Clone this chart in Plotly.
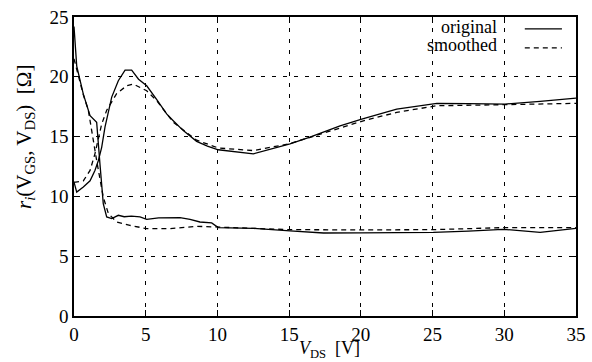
import plotly.graph_objects as go

# ---- data ----
# branch A: starts high at V_DS=0, drops, then flat
xa_orig = [0, 0.19, 0.65, 1.12, 1.58, 1.7, 1.81, 1.93, 2.04, 2.28, 2.63, 3.09, 3.5, 4.0, 4.6, 5.07, 5.9, 7.39, 8.09, 8.78, 9.6, 10.06, 12.5, 15.06, 17.4, 20, 22.5, 25.05, 27.5, 29.9, 32.5, 35]
ya_orig = [24.2, 20.9, 18.55, 16.75, 16.2, 14.0, 12.7, 11.0, 9.4, 8.28, 8.14, 8.42, 8.3, 8.35, 8.28, 8.08, 8.2, 8.22, 8.08, 7.86, 7.78, 7.39, 7.33, 7.11, 6.94, 6.95, 6.95, 7.0, 7.1, 7.25, 7.0, 7.33]

xa_smooth = [0, 0.3, 0.65, 1.0, 1.23, 1.58, 2.04, 2.4, 2.98, 3.9, 5.07, 6.69, 8.55, 10.06, 12.5, 15, 20, 25, 30, 35]
ya_smooth = [21.5, 20.0, 18.5, 17.2, 15.5, 13.0, 9.94, 8.56, 7.86, 7.58, 7.3, 7.3, 7.5, 7.42, 7.35, 7.22, 7.2, 7.22, 7.39, 7.39]

# branch B: starts low at V_DS=0, peaks near 4 V, dips at 12.5 V, rises
xb_orig = [0, 0.19, 0.65, 1.12, 1.46, 1.7, 1.93, 2.16, 2.63, 3.09, 3.56, 4.02, 4.5, 5.07, 5.77, 6.46, 6.92, 7.62, 8.55, 9.3, 10.06, 12.5, 15.06, 16.45, 18.55, 20.06, 22.5, 25.3, 27.5, 30.05, 32.5, 35]
yb_orig = [11.2, 10.36, 10.78, 11.3, 12.17, 13.0, 14.1, 15.8, 18.3, 19.67, 20.55, 20.55, 19.8, 19.25, 18.1, 16.9, 16.33, 15.5, 14.6, 14.2, 13.9, 13.56, 14.4, 14.95, 15.9, 16.47, 17.3, 17.78, 17.75, 17.72, 17.95, 18.22]

xb_smooth = [0, 0.12, 0.65, 1.12, 1.46, 1.7, 1.93, 2.28, 2.98, 3.67, 4.13, 5.07, 5.77, 6.92, 8.55, 10.06, 12.5, 15, 17.5, 20.06, 22.5, 25.3, 30, 35]
yb_smooth = [11.2, 11.2, 11.3, 12.17, 13.56, 14.95, 16.05, 17.2, 18.6, 19.25, 19.4, 18.83, 18.0, 16.2, 14.7, 14.05, 13.83, 14.4, 15.3, 16.28, 17.03, 17.58, 17.67, 17.78]

x_ticks = [0, 5, 10, 15, 20, 25, 30, 35]
y_ticks = [0, 5, 10, 15, 20, 25]

legend_labels = ["original", "smoothed"]
x_title = "<i>V</i><sub>DS</sub>  [V]"
y_title = "<i>r<sub>i</sub></i>(V<sub>GS</sub>, V<sub>DS</sub>)  [Ω]"

FONT = "Liberation Serif"
FS = 19

fig = go.Figure()
line_solid = dict(color="black", width=1.3)
line_dash = dict(color="black", width=1.3, dash="5px,4px")

fig.add_trace(go.Scatter(x=xa_orig, y=ya_orig, mode="lines", line=line_solid, showlegend=False))
fig.add_trace(go.Scatter(x=xb_orig, y=yb_orig, mode="lines", line=line_solid, showlegend=False))
fig.add_trace(go.Scatter(x=xa_smooth, y=ya_smooth, mode="lines", line=line_dash, showlegend=False))
fig.add_trace(go.Scatter(x=xb_smooth, y=yb_smooth, mode="lines", line=line_dash, showlegend=False))

axis_common = dict(
    showgrid=True, gridcolor="black", gridwidth=1, griddash="4px,7px",
    showline=True, linecolor="black", linewidth=1.5, mirror="ticks",
    ticks="inside", ticklen=6, tickcolor="black", tickwidth=1,
    zeroline=False, automargin=False,
    tickfont=dict(family=FONT, size=FS, color="black"),
)

fig.update_xaxes(range=[0, 35], tickvals=x_ticks, ticktext=[str(v) for v in x_ticks], **axis_common)
fig.update_yaxes(range=[0, 25], tickvals=y_ticks, ticktext=[str(v) for v in y_ticks], **axis_common)

# axis titles as annotations for exact placement
fig.add_annotation(x=0.508, y=-0.113, xref="paper", yref="paper", text=x_title, showarrow=False,
                   xanchor="center", yanchor="middle", font=dict(family=FONT, size=18, color="black"))
fig.add_annotation(x=-0.098, y=0.598, xref="paper", yref="paper", text=y_title, showarrow=False,
                   textangle=-90, xanchor="center", yanchor="middle", font=dict(family=FONT, size=21, color="black"))

# legend drawn as text + sample lines (text left of sample, as in reference)
leg_y_text = [0.966, 0.906]
leg_y_line = [0.96, 0.897]
for i, lab in enumerate(legend_labels):
    fig.add_annotation(x=0.847, y=leg_y_text[i], xref="paper", yref="paper", text=lab,
                       showarrow=False, xanchor="right", yanchor="middle",
                       font=dict(family=FONT, size=18, color="black"))
    fig.add_shape(type="line", xref="paper", yref="paper", x0=0.898, x1=0.972,
                  y0=leg_y_line[i], y1=leg_y_line[i],
                  line=dict(color="black", width=1.3, dash=None if i == 0 else "5px,4px"))

fig.update_layout(
    width=592, height=362,
    margin=dict(l=74, r=16, t=17, b=46),
    plot_bgcolor="white", paper_bgcolor="white",
    font=dict(family=FONT, size=FS, color="black"),
    showlegend=False,
)

fig.write_html("out.html", config={"displayModeBar": False},
               post_script="document.body.style.margin='0';document.body.style.overflow='hidden';")
